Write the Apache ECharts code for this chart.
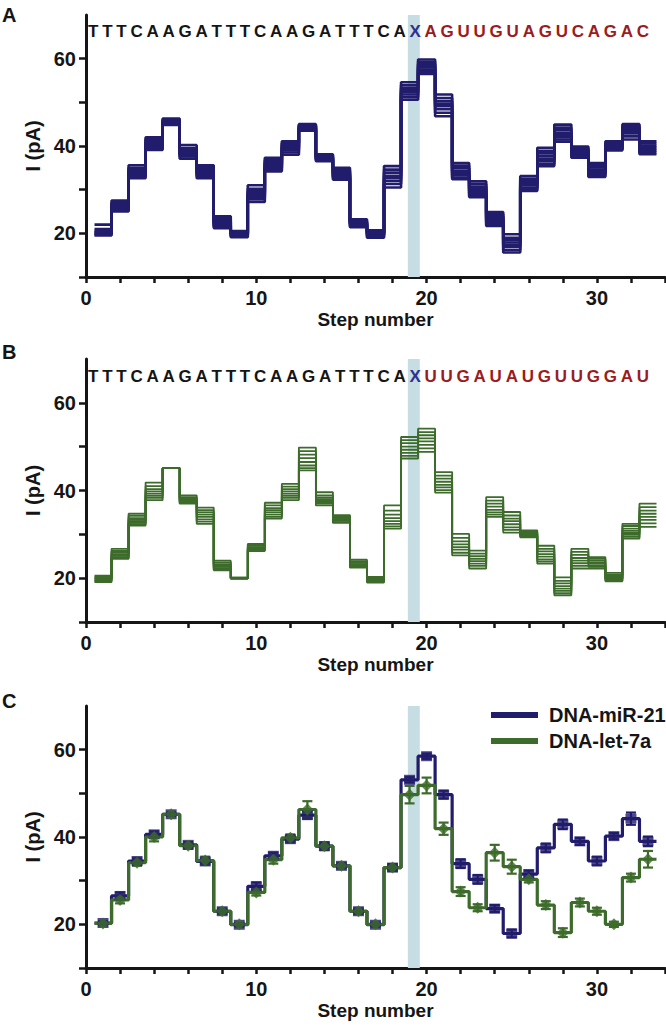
<!DOCTYPE html>
<html>
<head>
<meta charset="utf-8">
<script src="https://cdn.jsdelivr.net/npm/echarts@6/dist/echarts.min.js"></script>
<style>
  html, body { margin: 0; padding: 0; background: #fff; }
  #chart { width: 666px; height: 1028px; }
</style>
</head>
<body>
<div id="chart"></div>
<script>
// Nanopore step plots: A = DNA-miR-21 traces, B = DNA-let-7a traces, C = means +/- SD

// ---------------- data ----------------

const seqPrefix = "TTTCAAGATTTCAAGATTTCA";
const seqMark = "X";
const seqMir21 = "AGUUGUAGUCAGAC";
const seqLet7a = "UUGAUAUGUUGGAU";

// shaded column around step 19
const bandRange = [18.9, 19.6];

const xTicksLabeled = [0, 10, 20, 30];
const yTicks = [10, 20, 30, 40, 50, 60];
const yTicksLabeled = [20, 40, 60];

// panel A, individual DNA-miR-21 events (pA per step, steps 1..33)
const tracesA = [
  [22.0, 27.5, 35.6, 42.0, 46.3, 40.2, 35.6, 22.4, 19.8, 28.8, 35.5, 39.4, 45.0, 38.1, 35.0, 23.2, 20.7, 35.4, 54.6, 59.8, 51.8, 36.1, 31.9, 24.9, 19.8, 33.1, 39.6, 44.9, 39.9, 36.1, 41.1, 45.0, 41.1],
  [21.0, 27.0, 35.0, 41.6, 46.0, 39.5, 35.2, 23.5, 20.2, 30.2, 36.8, 40.7, 44.8, 37.8, 34.5, 22.9, 20.4, 34.6, 53.9, 57.0, 47.6, 32.8, 28.7, 22.1, 16.2, 30.1, 38.9, 44.2, 39.5, 35.6, 40.7, 44.6, 40.6],
  [20.6, 26.7, 34.6, 41.2, 45.8, 39.0, 34.8, 23.0, 20.0, 29.6, 36.3, 40.3, 44.6, 37.6, 34.1, 22.6, 20.2, 33.9, 53.3, 58.8, 50.3, 34.9, 30.7, 23.9, 18.4, 32.0, 38.3, 41.0, 37.3, 32.9, 39.0, 41.5, 38.1],
  [20.3, 26.3, 34.2, 40.8, 45.6, 38.6, 34.4, 22.7, 19.9, 29.2, 35.9, 39.8, 44.0, 37.0, 33.0, 22.0, 19.6, 32.0, 52.8, 58.4, 49.7, 34.3, 30.2, 23.5, 17.9, 31.5, 37.7, 43.0, 38.9, 34.6, 40.1, 43.8, 39.7],
  [20.1, 26.0, 33.8, 40.4, 45.4, 38.3, 34.0, 23.9, 20.5, 31.0, 37.3, 41.1, 44.2, 37.2, 33.3, 22.2, 19.8, 32.6, 52.3, 58.0, 49.1, 33.8, 29.7, 23.0, 17.4, 31.0, 37.1, 42.5, 38.6, 34.1, 39.8, 43.4, 39.3],
  [19.9, 25.6, 33.4, 40.0, 45.2, 38.0, 33.6, 22.0, 19.6, 28.3, 35.0, 39.0, 44.4, 37.4, 33.7, 22.4, 20.0, 33.2, 51.8, 57.5, 48.4, 33.3, 29.2, 22.6, 16.9, 30.5, 36.5, 42.0, 38.2, 33.7, 39.5, 42.9, 38.9],
  [19.7, 25.2, 33.0, 39.5, 45.0, 37.6, 33.1, 21.6, 19.4, 27.8, 34.6, 38.5, 43.8, 36.8, 32.7, 21.7, 19.3, 31.3, 51.2, 59.3, 51.0, 35.5, 31.3, 24.4, 19.0, 32.5, 35.9, 41.5, 37.8, 33.3, 39.2, 42.2, 38.5],
  [19.5, 25.0, 32.6, 39.1, 44.8, 37.1, 32.6, 21.2, 19.1, 27.2, 34.2, 38.0, 43.5, 36.5, 32.3, 21.4, 19.0, 30.5, 50.6, 56.5, 46.8, 32.4, 28.3, 21.7, 15.6, 29.7, 35.4, 43.6, 39.2, 35.1, 40.4, 44.2, 40.1],
];

// panel B, individual DNA-let-7a events
const tracesB = [
  [20.6, 26.7, 34.7, 41.8, 45.1, 38.9, 36.1, 24.0, 20.1, 27.8, 37.2, 41.5, 49.8, 39.6, 34.4, 24.2, 20.3, 32.4, 48.6, 50.4, 40.7, 26.5, 26.3, 38.5, 35.1, 30.9, 27.4, 20.2, 26.7, 24.8, 21.2, 32.4, 37.0],
  [20.3, 26.2, 34.2, 41.0, 45.1, 38.5, 35.5, 23.6, 20.1, 26.7, 35.0, 39.3, 46.5, 37.6, 34.1, 23.8, 20.1, 35.4, 51.5, 53.3, 43.4, 29.2, 25.6, 37.7, 34.3, 30.6, 26.7, 19.4, 26.0, 24.4, 20.8, 31.9, 36.2],
  [20.1, 25.8, 33.7, 40.3, 45.1, 38.2, 35.0, 23.2, 20.0, 27.1, 36.0, 40.3, 48.2, 38.4, 33.8, 23.5, 19.9, 34.5, 50.8, 52.6, 42.7, 28.4, 25.0, 34.0, 30.4, 29.3, 23.3, 16.1, 25.3, 24.0, 20.5, 31.3, 35.4],
  [19.9, 25.4, 33.3, 39.8, 45.1, 37.9, 34.5, 22.9, 20.0, 26.9, 35.5, 39.8, 47.4, 38.0, 33.5, 23.2, 19.8, 33.7, 50.0, 51.9, 42.0, 27.7, 24.4, 36.3, 33.0, 30.1, 25.5, 18.2, 24.6, 23.6, 20.2, 30.8, 34.7],
  [19.7, 25.1, 33.0, 39.3, 45.1, 37.7, 34.0, 22.6, 20.0, 27.4, 36.6, 40.9, 49.0, 38.9, 33.3, 23.0, 19.6, 33.0, 49.3, 51.2, 41.3, 27.1, 23.9, 35.6, 32.3, 29.9, 24.9, 17.6, 24.0, 23.3, 20.0, 30.3, 34.0],
  [19.5, 24.8, 32.6, 38.8, 45.1, 37.4, 33.4, 22.3, 19.9, 26.5, 34.5, 38.8, 45.7, 37.3, 33.1, 22.8, 19.4, 36.6, 52.2, 54.1, 44.2, 30.1, 23.3, 35.0, 31.6, 29.7, 24.3, 17.1, 23.4, 22.9, 19.8, 29.9, 33.3],
  [19.3, 24.6, 32.3, 38.3, 45.1, 37.2, 32.9, 22.0, 19.9, 26.3, 34.0, 38.3, 45.1, 37.0, 32.8, 22.6, 19.2, 31.8, 47.9, 49.6, 40.1, 25.8, 22.8, 34.5, 31.0, 29.5, 23.8, 16.6, 22.8, 22.6, 19.5, 29.4, 32.5],
  [19.1, 24.4, 32.0, 37.8, 45.1, 37.0, 32.4, 21.8, 19.9, 26.2, 33.6, 37.8, 44.6, 36.6, 32.6, 22.4, 19.0, 31.3, 47.3, 48.8, 39.5, 25.2, 22.2, 37.0, 33.6, 30.3, 26.1, 18.8, 22.2, 22.2, 19.3, 29.0, 31.7],
];

// panel C, mean and SD per step
const mir21Mean = [20.3, 26.5, 34.5, 40.6, 45.2, 38.2, 34.4, 23.0, 19.9, 28.7, 35.7, 39.5, 45.0, 37.9, 33.4, 23.0, 19.9, 33.0, 53.1, 58.5, 49.7, 33.9, 30.3, 23.6, 17.9, 31.5, 37.5, 42.9, 39.0, 34.5, 40.2, 44.2, 39.0];
const mir21Sd   = [0.4, 0.8, 0.6, 0.7, 0.4, 0.6, 0.6, 0.5, 0.4, 0.9, 0.7, 0.7, 0.8, 0.5, 0.5, 0.5, 0.4, 0.6, 0.6, 0.6, 0.9, 1.0, 1.0, 0.8, 0.9, 0.8, 1.0, 1.1, 0.8, 1.0, 0.7, 1.4, 1.1];
const let7aMean = [20.2, 25.6, 34.1, 40.0, 45.2, 38.0, 34.6, 23.0, 20.0, 27.3, 34.8, 39.8, 46.3, 37.9, 33.4, 23.0, 20.0, 33.0, 49.7, 51.8, 41.9, 27.5, 23.8, 36.4, 33.2, 30.3, 24.4, 18.1, 25.0, 23.0, 20.0, 30.7, 34.9];
const let7aSd   = [0.4, 0.8, 0.7, 1.0, 0.3, 0.7, 0.9, 0.6, 0.3, 0.7, 0.9, 0.8, 1.9, 0.9, 0.6, 0.6, 0.4, 0.8, 2.0, 1.8, 1.4, 1.0, 0.8, 1.8, 1.6, 0.7, 0.9, 1.0, 0.9, 0.8, 0.6, 0.9, 1.9];

// ---------------- style ----------------

const FONT = '"Liberation Sans", Arial, sans-serif';
const NAVY = "#221c6c";
const GREEN = "#3d6b2b";
const RED = "#9b1c20";
const XBLUE = "#2e3192";
const INK = "#151515";
const BAND = "#c6dde3";

const X_MIN = 0, X_MAX = 34;
const Y_MIN = 10, Y_MAX = 70;

const grids = [
  { left: 86, top: 15, width: 579, height: 262 },
  { left: 86, top: 359, width: 579, height: 263 },
  { left: 86, top: 706, width: 579, height: 262 },
];

// ---------------- helpers ----------------

// each step n is a flat segment from n-0.5 to n+0.5
function stepPoints(vals) {
  const pts = [];
  vals.forEach((v, i) => {
    pts.push([i + 0.5, v], [i + 1.5, v]);
  });
  return pts;
}

function xAxisFor(i) {
  return {
    type: "value", gridIndex: i, min: X_MIN, max: X_MAX, interval: 2,
    axisLine: { show: true, lineStyle: { color: INK, width: 3 } },
    axisTick: { show: true, length: 6, lineStyle: { color: INK, width: 2.5 } },
    axisLabel: {
      customValues: xTicksLabeled, margin: 11,
      fontFamily: FONT, fontSize: 20, fontWeight: "bold", color: INK,
    },
    splitLine: { show: false },
    name: "Step number", nameLocation: "middle", nameGap: 33,
    nameTextStyle: { fontFamily: FONT, fontSize: 19, fontWeight: "bold", color: INK },
  };
}

function yAxisFor(i) {
  return {
    type: "value", gridIndex: i, min: Y_MIN, max: Y_MAX, interval: 10,
    axisLine: { show: true, onZero: false, lineStyle: { color: INK, width: 3 } },
    axisTick: { show: true, customValues: yTicks, length: 7, lineStyle: { color: INK, width: 2.5 } },
    axisLabel: {
      customValues: yTicksLabeled, margin: 10,
      fontFamily: FONT, fontSize: 20, fontWeight: "bold", color: INK,
    },
    splitLine: { show: false },
    name: "I (pA)", nameLocation: "middle", nameGap: 42, nameRotate: 90,
    nameTextStyle: { fontFamily: FONT, fontSize: 20, fontWeight: "bold", color: INK },
  };
}

function bandSeries(i) {
  return {
    type: "custom", xAxisIndex: i, yAxisIndex: i, silent: true, z: 1,
    data: [bandRange],
    encode: { x: [0, 1] },
    renderItem: (params, api) => {
      const p0 = api.coord([api.value(0), Y_MAX]);
      const p1 = api.coord([api.value(1), Y_MIN]);
      return {
        type: "rect",
        shape: { x: p0[0], y: p0[1], width: p1[0] - p0[0], height: p1[1] - p0[1] },
        style: { fill: BAND },
      };
    },
  };
}

function traceSeries(traces, i, color, width) {
  return traces.map((t) => ({
    type: "line", xAxisIndex: i, yAxisIndex: i, silent: true, z: 3,
    data: stepPoints(t), showSymbol: false,
    lineStyle: { color, width },
  }));
}

function errorBarSeries(means, sds, color) {
  return {
    type: "custom", xAxisIndex: 2, yAxisIndex: 2, silent: true, z: 5,
    data: means.map((m, k) => [k + 1, m - sds[k], m + sds[k]]),
    encode: { x: 0, y: [1, 2] },
    renderItem: (params, api) => {
      const top = api.coord([api.value(0), api.value(2)]);
      const bot = api.coord([api.value(0), api.value(1)]);
      const hw = 5;
      const st = { stroke: color, lineWidth: 2.2 };
      return {
        type: "group",
        children: [
          { type: "line", shape: { x1: top[0], y1: top[1], x2: bot[0], y2: bot[1] }, style: st },
          { type: "line", shape: { x1: top[0] - hw, y1: top[1], x2: top[0] + hw, y2: top[1] }, style: st },
          { type: "line", shape: { x1: bot[0] - hw, y1: bot[1], x2: bot[0] + hw, y2: bot[1] }, style: st },
        ],
      };
    },
  };
}

// sequence letters, spread evenly between left and right edges
const SEQ_LEFT = 88, SEQ_RIGHT = 649;
const SEQ_FONT = 'bold 17px "Liberation Sans", Arial, sans-serif';

function sequenceText(y, suffix) {
  const parts = [
    { text: seqPrefix, color: INK },
    { text: seqMark, color: XBLUE },
    { text: suffix, color: RED },
  ];
  const ctx = document.createElement("canvas").getContext("2d");
  ctx.font = SEQ_FONT;
  const chars = [];
  parts.forEach((p) => {
    for (const ch of p.text) chars.push({ ch, color: p.color, w: ctx.measureText(ch).width });
  });
  const total = chars.reduce((s, c) => s + c.w, 0);
  const gap = (SEQ_RIGHT - SEQ_LEFT - total) / (chars.length - 1);
  let x = SEQ_LEFT;
  return chars.map((c) => {
    const el = {
      type: "text", x, y, silent: true, z: 10,
      style: { text: c.ch, fill: c.color, font: SEQ_FONT, verticalAlign: "middle" },
    };
    x += c.w + gap;
    return el;
  });
}

function panelLabel(text, x, y) {
  return {
    type: "text", x, y, silent: true,
    style: { text, fill: INK, font: 'bold 20px "Liberation Sans", Arial, sans-serif', verticalAlign: "middle" },
  };
}

// ---------------- chart ----------------

const chart = echarts.init(document.getElementById("chart"), null, { renderer: "svg" });

const series = [
  bandSeries(0),
  bandSeries(1),
  bandSeries(2),
  ...traceSeries(tracesA, 0, NAVY, 2.6),
  ...traceSeries(tracesB, 1, GREEN, 1.8),
  {
    name: "DNA-miR-21", type: "line", xAxisIndex: 2, yAxisIndex: 2, z: 3,
    data: stepPoints(mir21Mean), showSymbol: false,
    lineStyle: { color: NAVY, width: 3.2 }, itemStyle: { color: NAVY },
  },
  {
    name: "DNA-let-7a", type: "line", xAxisIndex: 2, yAxisIndex: 2, z: 4,
    data: stepPoints(let7aMean), showSymbol: false,
    lineStyle: { color: GREEN, width: 3.2 }, itemStyle: { color: GREEN },
  },
  errorBarSeries(mir21Mean, mir21Sd, NAVY),
  {
    type: "scatter", xAxisIndex: 2, yAxisIndex: 2, z: 6, silent: true,
    data: mir21Mean.map((m, k) => [k + 1, m]),
    symbol: "rect", symbolSize: [11, 10], itemStyle: { color: NAVY },
  },
  errorBarSeries(let7aMean, let7aSd, GREEN),
  {
    type: "scatter", xAxisIndex: 2, yAxisIndex: 2, z: 7, silent: true,
    data: let7aMean.map((m, k) => [k + 1, m]),
    symbol: "diamond", symbolSize: 12, itemStyle: { color: GREEN },
  },
];

chart.setOption({
  animation: false,
  backgroundColor: "#fff",
  grid: grids,
  xAxis: [0, 1, 2].map(xAxisFor),
  yAxis: [0, 1, 2].map(yAxisFor),
  legend: {
    data: ["DNA-miR-21", "DNA-let-7a"],
    orient: "vertical", left: 486, top: 700,
    icon: "rect", itemWidth: 47, itemHeight: 6, itemGap: 6,
    selectedMode: false,
    textStyle: { fontFamily: FONT, fontSize: 20, fontWeight: "bold", color: INK, padding: [0, 0, 0, 6] },
  },
  graphic: [
    panelLabel("A", 2, 15),
    panelLabel("B", 2, 352),
    panelLabel("C", 2, 701),
    ...sequenceText(31.5, seqMir21),
    ...sequenceText(376, seqLet7a),
  ],
  series,
});
</script>
</body>
</html>
